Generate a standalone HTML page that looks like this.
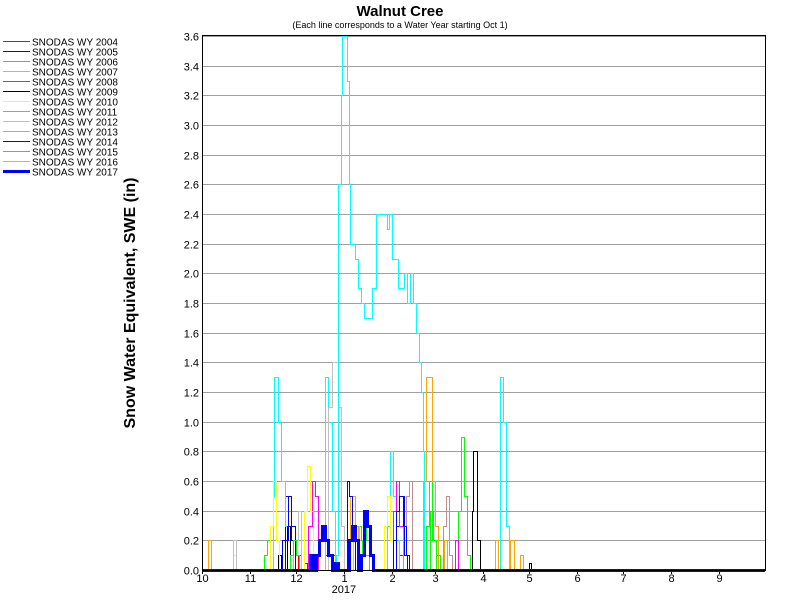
<!DOCTYPE html>
<html><head><meta charset="utf-8"><style>
body{margin:0;background:#fff;}
svg{display:block;font-family:"Liberation Sans",Arial,sans-serif;}
</style></head><body>
<svg id="chart" width="800" height="600">
<text x="400" y="16" text-anchor="middle" font-size="15" font-weight="bold">Walnut Cree</text>
<text x="400" y="28" text-anchor="middle" font-size="9">(Each line corresponds to a Water Year starting Oct 1)</text>
<text transform="translate(135,303) rotate(-90)" text-anchor="middle" font-size="16" font-weight="bold">Snow Water Equivalent, SWE (in)</text>
<g id="grid"></g><g id="yticks"></g><g id="xticks"></g><g id="series"></g><g id="legend"></g>
<rect x="202.5" y="35.5" width="563" height="535" fill="none" stroke="#000" stroke-width="1"/>
</svg>
<script>
const NS="http://www.w3.org/2000/svg";
const yTicks=[0,0.2,0.4,0.6,0.8,1.0,1.2,1.4,1.6,1.8,2.0,2.2,2.4,2.6,2.8,3.0,3.2,3.4,3.6];
const monthLabels=["10","11","12","1","2","3","4","5","6","7","8","9"];
const monthDays=[0,31,61,92,123,151,182,212,243,273,304,335];
const seriesNames=["SNODAS WY 2004","SNODAS WY 2005","SNODAS WY 2006","SNODAS WY 2007","SNODAS WY 2008","SNODAS WY 2009","SNODAS WY 2010","SNODAS WY 2011","SNODAS WY 2012","SNODAS WY 2013","SNODAS WY 2014","SNODAS WY 2015","SNODAS WY 2016","SNODAS WY 2017"];
const seriesColors=["#ff0000","#0000ff","#00ff00","#00ffff","#ff00ff","#000000","#ffff00","#c09090","#c0c0c0","#ffa500","#0000ff","#00ff00","#00ffff","#0000ff"];
const seriesWidths=[1,1,1,1,1,1,1,1,1,1,1,1,1,3];
const d2004=[62,64,66,68,80,82,84,86,128,130];const v2004=[0.1,0,0.05,0,0.1,0,0.1,0,0.1,0];
const d2005=[52,54,56,58,60,126,128,131,133];const v2005=[0.2,0.5,0.5,0.2,0,0.3,0.5,0.1,0];
const d2006=[40,42,44,101,103,105,108,145,147,149,152,166,168,170,172,174];const v2006=[0.1,0.2,0,0.3,0.2,0.1,0,0.3,0.6,0.2,0,0.4,0.9,0.5,0.1,0];
const d2007=[46,47,49,51,54,57,59,80,82,84,86,120,122,124,126,128,193,195,197,199,212,213];const v2007=[0.5,1.3,1.0,0.6,0.3,0.1,0,1.3,1.0,0.4,0,0.3,0.8,0.5,0.2,0,1.3,1.0,0.3,0,0.05,0];
const d2008=[69,71,73,75,124,126,128,130,164,166];const v2008=[0.3,0.6,0.5,0,0.4,0.6,0.3,0,0.2,0];
const d2009=[49,51,55,57,175,176,178,180,212,213];const v2009=[0.1,0,0.3,0,0.4,0.8,0.2,0,0.05,0];
const d2010=[20,22,44,46,48,50,66,68,70,72,118,120,122,124];const v2010=[0.1,0,0.3,0.6,0.2,0,0.4,0.7,0.4,0,0.3,0.5,0.2,0];
const d2011=[130,132,134,136,156,158,160,162];const v2011=[0.3,0.5,0.6,0,0.3,0.5,0.1,0];
const d2012=[20,22,60,62,64,82,84,86,88,90,92,98,100,102];const v2012=[0.2,0,0.2,0.4,0,1.1,1.4,1.4,1.1,0.3,0,0.2,0.3,0];
const d2013=[4,6,94,96,99,101,143,145,146,149,151,153,157,159,190,192,200,202,206,208];const v2013=[0.2,0,0.2,0.5,0.3,0,0.6,1.3,1.3,0.6,0.3,0,0.2,0,0.2,0,0.2,0,0.1,0];
const d2014=[54,56,58,60,94,95,97,99,124,126,128,130,132,134];const v2014=[0.2,0.5,0.3,0,0.6,0.5,0.2,0,0.2,0.4,0.5,0.3,0.1,0];
const d2015=[57,59,61,63,104,106,108,110,148,150,152,154];const v2015=[0.1,0.2,0.1,0,0.2,0.3,0.1,0,0.4,0.2,0.1,0];
const d2016=[87,88,90,91,93,94,95,96,99,101,103,105,110,113,115,120,121,122,123,127,128,131,133,135,137,139,141,142,143,144];const v2016=[0.1,2.6,3.2,3.6,3.6,3.3,2.6,2.2,2.1,1.9,1.8,1.7,1.9,2.4,2.4,2.3,2.4,2.4,2.1,1.9,1.9,2.0,1.8,2.0,1.8,1.6,1.4,1.2,0.8,0];
const d2017=[70,72,74,76,78,80,82,84,86,88,95,97,99,101,103,105,107,109,111];const v2017=[0.1,0,0.1,0.2,0.3,0.2,0.1,0,0.05,0,0.2,0.3,0.2,0,0.1,0.4,0.3,0.1,0];
const seriesDays=[d2004,d2005,d2006,d2007,d2008,d2009,d2010,d2011,d2012,d2013,d2014,d2015,d2016,d2017];
const seriesVals=[v2004,v2005,v2006,v2007,v2008,v2009,v2010,v2011,v2012,v2013,v2014,v2015,v2016,v2017];

const X0=202,X1=765,Y0=570,Y1=36,YMAX=3.6,DAYS=365;
const xs=d=>X0+d*(X1-X0)/DAYS;
const ys=v=>Y0-v*(Y0-Y1)/YMAX;
function mk(tag,attrs,parent){const e=document.createElementNS(NS,tag);for(const k in attrs)e.setAttribute(k,attrs[k]);parent.appendChild(e);return e;}
const grid=document.getElementById('grid'),yt=document.getElementById('yticks'),xt=document.getElementById('xticks'),sg=document.getElementById('series'),lg=document.getElementById('legend');
yTicks.forEach(v=>{
 const y=Math.round(ys(v))+0.5;
 const l=mk('line',{x1:X0,x2:X1,y1:y,y2:y,stroke:'#a0a0a0','stroke-width':1},grid);
 
 
 const t=mk('text',{x:199,y:y+4,'text-anchor':'end','font-size':11},yt);
 t.textContent=v.toFixed(1);
 
 
});
monthDays.forEach((d,i)=>{
 const x=Math.round(xs(d))+0.5;
 const tk=mk('line',{x1:x,x2:x,y1:Y0,y2:Y0+4,stroke:'#000'},xt);
 
 
 const t=mk('text',{x:x,y:582,'text-anchor':'middle','font-size':11},xt);
 t.textContent=monthLabels[i];
 
 
});
const yr=mk('text',{x:xs(92),y:593,'text-anchor':'middle','font-size':11},xt);
yr.textContent='2017';


seriesDays.forEach((ds,i)=>{
 const vs=seriesVals[i];
 const r=x=>Math.round(x)+0.5;
 let p='M'+X0+','+r(Y0);let prev=0;
 ds.forEach((d,j)=>{const x=r(xs(d));p+=' L'+x+','+r(ys(prev))+' L'+x+','+r(ys(vs[j]));prev=vs[j];});
 p+=' L'+X1+','+r(ys(prev));
 const path=mk('path',{d:p,fill:'none',stroke:seriesColors[i],'stroke-width':seriesWidths[i]},sg);
 
 
});
seriesNames.forEach((n,i)=>{
 const y=41.5+i*10;
 const g=mk('g',{},lg);
 
 
 const ln=mk('line',{x1:3,x2:30,y1:y,y2:y,stroke:seriesColors[i],'stroke-width':seriesWidths[i]},g);
 const t=mk('text',{x:32,y:y+4,'font-size':10},g);
 t.textContent=n;
});
</script>
</body></html>
